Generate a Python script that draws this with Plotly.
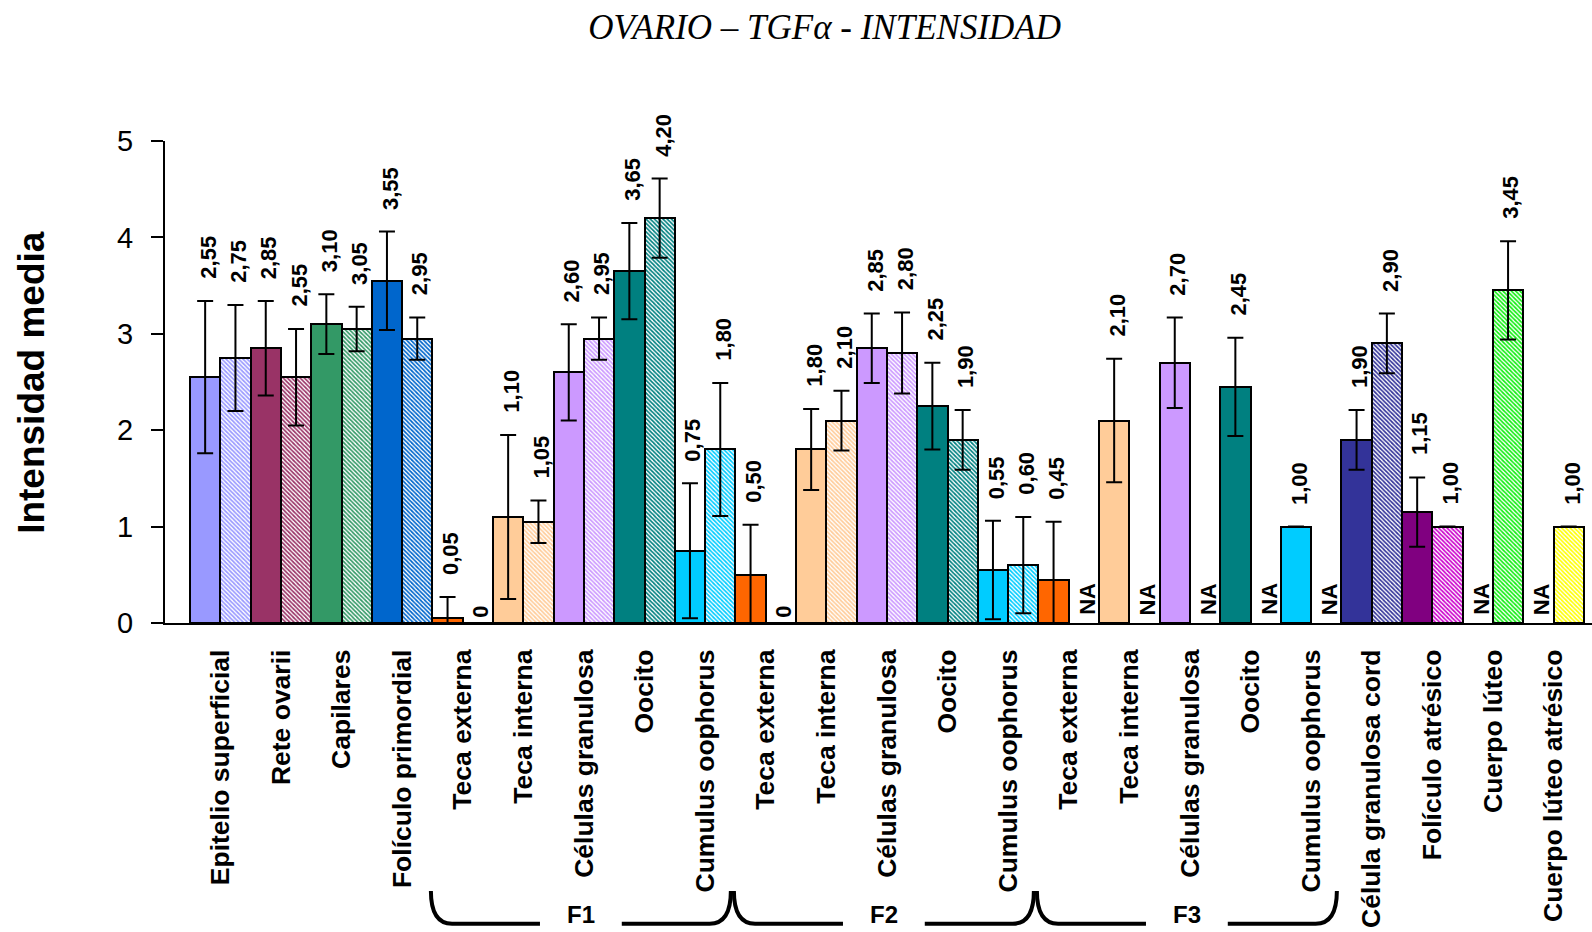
import plotly.graph_objects as go

# Tissue compartments, one slot per compartment (two bars each)
categories = [
    "Epitelio superficial", "Rete ovarii", "Capilares", "Folículo primordial",
    "Teca externa", "Teca interna", "Células granulosa", "Oocito", "Cumulus oophorus",
    "Teca externa", "Teca interna", "Células granulosa", "Oocito", "Cumulus oophorus",
    "Teca externa", "Teca interna", "Células granulosa", "Oocito", "Cumulus oophorus",
    "Célula granulosa cord", "Folículo atrésico", "Cuerpo lúteo", "Cuerpo lúteo atrésico",
]

# Mean intensity, first (solid) bar of each slot; None = not available
solid_values = [2.55, 2.85, 3.10, 3.55, 0.05, 1.10, 2.60, 3.65, 0.75,
                0.50, 1.80, 2.85, 2.25, 0.55,
                0.45, 2.10, 2.70, 2.45, 1.00,
                1.90, 1.15, None, None]
solid_err = [0.79, 0.49, 0.31, 0.51, 0.22, 0.85, 0.50, 0.50, 0.70,
             0.52, 0.42, 0.36, 0.45, 0.51,
             0.60, 0.64, 0.47, 0.51, 0.00,
             0.31, 0.36, None, None]

# Mean intensity, second (hatched) bar of each slot
hatched_values = [2.75, 2.55, 3.05, 2.95, 0, 1.05, 2.95, 4.20, 1.80,
                  0, 2.10, 2.80, 1.90, 0.60,
                  None, None, None, None, None,
                  2.90, 1.00, 3.45, 1.00]
hatched_err = [0.55, 0.50, 0.23, 0.22, None, 0.22, 0.22, 0.41, 0.69,
               None, 0.31, 0.42, 0.31, 0.50,
               None, None, None, None, None,
               0.31, 0.00, 0.51, 0.00]

# Follicle stage brackets: (label, first slot, last slot)
groups = [("F1", 4, 8), ("F2", 9, 13), ("F3", 14, 18)]

follicle_colors = ["#FF6600", "#FFCC99", "#CC99FF", "#008080", "#00CCFF"]
solid_colors = (["#9999FF", "#993366", "#339966", "#0066CC"]
                + follicle_colors * 3
                + ["#333399", "#800080", "#33FF33", "#FFFF00"])
hatched_colors = (["#9999FF", "#993366", "#339966", "#0066CC"]
                  + follicle_colors * 3
                  + ["#333399", "#CC00CC", "#11EE11", "#FFFF00"])

SANS = "Liberation Sans"
SERIF = "Liberation Serif"

n = len(categories)
x_solid = [2 * k for k in range(n)]
x_hatch = [2 * k + 1 for k in range(n)]


def err_parts(vals, errs):
    up, down = [], []
    for v, e in zip(vals, errs):
        if v is None or e is None:
            up.append(None)
            down.append(None)
        else:
            up.append(e)
            down.append(min(e, v))  # whiskers stop at the baseline
    return up, down


s_up, s_down = err_parts(solid_values, solid_err)
h_up, h_down = err_parts(hatched_values, hatched_err)

fig = go.Figure()

fig.add_trace(go.Bar(
    x=x_solid, y=solid_values, width=1.0,
    marker=dict(color=solid_colors, line=dict(color="black", width=2)),
    error_y=dict(type="data", symmetric=False, array=s_up, arrayminus=s_down,
                 color="black", thickness=2, width=8),
    showlegend=False, hoverinfo="skip",
))

fig.add_trace(go.Bar(
    x=x_hatch, y=hatched_values, width=1.0,
    marker=dict(
        color="white",
        line=dict(color="black", width=2),
        pattern=dict(shape="\\", fillmode="replace", fgcolor=hatched_colors,
                     bgcolor="white", size=3, solidity=0.55),
    ),
    error_y=dict(type="data", symmetric=False, array=h_up, arrayminus=h_down,
                 color="black", thickness=2, width=8),
    showlegend=False, hoverinfo="skip",
))

annotations = []
label_font = dict(family=SANS, size=22, color="black", weight="bold")


def add_value_labels(xs, vals, errs):
    for x, v, e in zip(xs, vals, errs):
        if v is None:
            annotations.append(dict(x=x, y=0, xref="x", yref="y", text="NA",
                                    textangle=-90, showarrow=False, font=label_font,
                                    xanchor="center", yanchor="bottom",
                                    xshift=3, yshift=6))
        elif v == 0:
            annotations.append(dict(x=x, y=0, xref="x", yref="y", text="0",
                                    textangle=-90, showarrow=False, font=label_font,
                                    xanchor="center", yanchor="bottom",
                                    xshift=2, yshift=3))
        else:
            top = v + (e or 0)
            annotations.append(dict(x=x, y=top, xref="x", yref="y",
                                    text=f"{v:.2f}".replace(".", ","),
                                    textangle=-90, showarrow=False, font=label_font,
                                    xanchor="center", yanchor="bottom",
                                    xshift=3, yshift=20))


add_value_labels(x_solid, solid_values, solid_err)
add_value_labels(x_hatch, hatched_values, hatched_err)

# Y axis title
annotations.append(dict(x=-0.094, y=0.5, xref="paper", yref="paper",
                        text="Intensidad media", textangle=-90, showarrow=False,
                        font=dict(family=SANS, size=37, color="black", weight="bold"),
                        xanchor="center", yanchor="middle"))

# Follicle stage brackets under the category labels
shapes = []
y_top, y_line = -0.556, -0.624
r = 0.7
for name, first, last in groups:
    x0 = 2 * first - 0.55
    x1 = 2 * last + 1.35
    xc = (x0 + x1) / 2
    gap = 1.35
    path = (f"M {x0},{y_top} Q {x0},{y_line} {x0 + r},{y_line} L {xc - gap},{y_line} "
            f"M {xc + gap},{y_line} L {x1 - r},{y_line} Q {x1},{y_line} {x1},{y_top}")
    shapes.append(dict(type="path", path=path, xref="x", yref="paper",
                       line=dict(color="black", width=4)))
    annotations.append(dict(x=xc, y=y_line, xref="x", yref="paper", text=name,
                            showarrow=False, xanchor="center", yanchor="middle",
                            yshift=9,
                            font=dict(family=SANS, size=24, color="black", weight="bold")))

fig.update_layout(
    width=1592, height=932, autosize=False,
    margin=dict(l=165, r=0, t=141, b=309),
    paper_bgcolor="white", plot_bgcolor="white",
    barmode="overlay", bargap=0,
    title=dict(text="OVARIO – TGFα - INTENSIDAD", x=0.518, y=0.971,
               xref="container", yref="container", xanchor="center", yanchor="middle",
               font=dict(family=SERIF, size=35, color="black", style="italic")),
    annotations=annotations,
    shapes=shapes,
)

fig.update_xaxes(
    range=[-1.325, 45.77], showgrid=False, zeroline=False,
    showline=True, linecolor="black", linewidth=2,
    tickmode="array", tickvals=[2 * k + 0.5 for k in range(n)], ticktext=categories,
    tickangle=-90, ticks="", ticklabelstandoff=14,
    tickfont=dict(family=SANS, size=26.5, color="black", weight="bold"),
)

fig.update_yaxes(
    range=[0, 5], tickvals=[0, 1, 2, 3, 4, 5], showgrid=False, zeroline=False,
    showline=True, linecolor="black", linewidth=2,
    ticks="outside", ticklen=12, tickwidth=2, tickcolor="black",
    ticklabelstandoff=12,
    tickfont=dict(family=SANS, size=29, color="black"),
)

fig.write_html("out.html")
